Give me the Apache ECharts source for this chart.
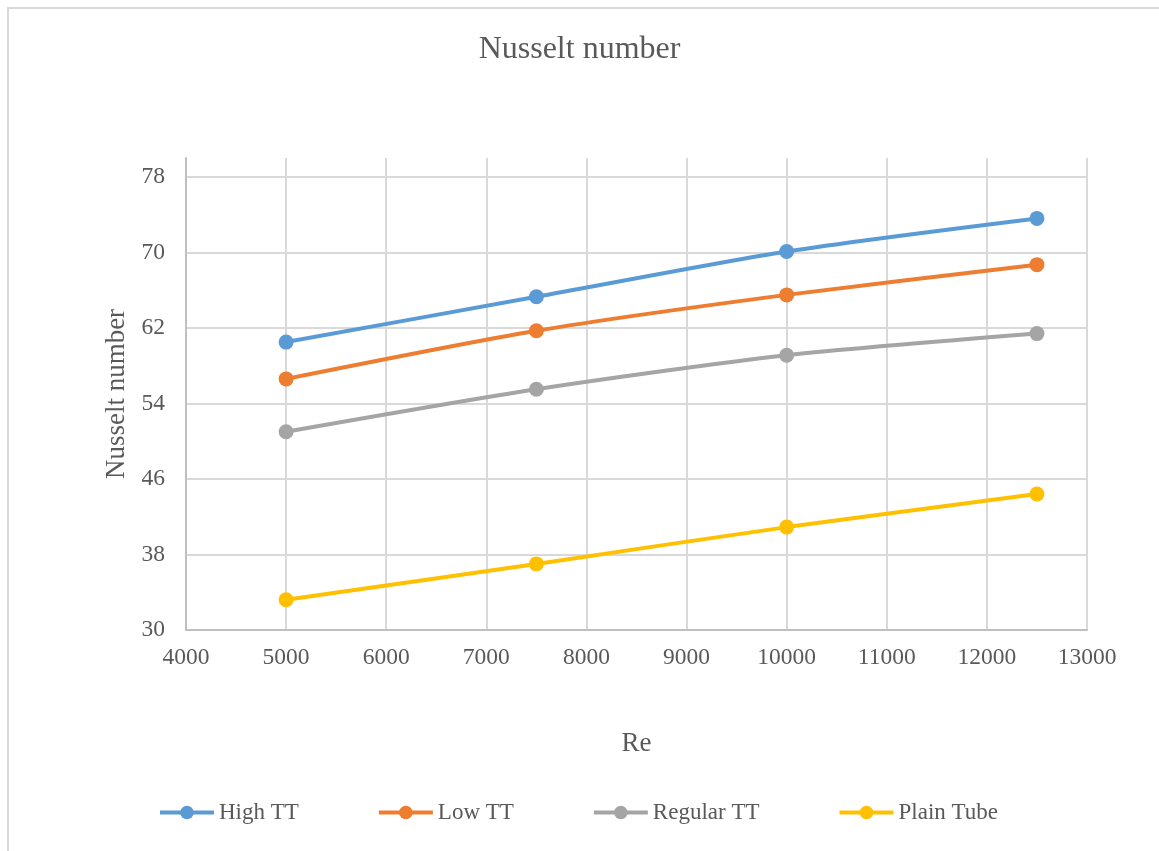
<!DOCTYPE html>
<html>
<head>
<meta charset="utf-8">
<title>Nusselt number</title>
<script src="https://cdn.jsdelivr.net/npm/echarts@6/dist/echarts.min.js"></script>
<style>
  html, body { margin: 0; padding: 0; background: #ffffff; }
  #chart { width: 1159px; height: 851px; }
</style>
</head>
<body>
<div id="chart"></div>
<script>
// Reynolds numbers (x values)
const reValues = [5000, 7500, 10000, 12500];

// Nusselt number per tube configuration
const highTT = [60.5, 65.3, 70.1, 73.6];
const lowTT = [56.6, 61.7, 65.5, 68.7];
const regularTT = [51.0, 55.5, 59.1, 61.4];
const plainTube = [33.2, 37.0, 40.9, 44.4];

const seriesNames = ['High TT', 'Low TT', 'Regular TT', 'Plain Tube'];
const seriesColors = ['#5B9BD5', '#ED7D31', '#A5A5A5', '#FFC000'];
const seriesValues = [highTT, lowTT, regularTT, plainTube];

const FONT = '"Liberation Serif", "Times New Roman", serif';
const TEXT = '#595959';

const chart = echarts.init(document.getElementById('chart'), null, { renderer: 'canvas' });

const series = seriesNames.map((name, i) => ({
  name: name,
  type: 'line',
  data: reValues.map((x, j) => [x, seriesValues[i][j]]),
  smooth: 0.25,
  symbol: 'circle',
  symbolSize: 15,
  lineStyle: { width: 4, color: seriesColors[i] },
  itemStyle: { color: seriesColors[i] },
  emphasis: { disabled: true }
}));

chart.setOption({
  animation: false,
  backgroundColor: '#ffffff',
  textStyle: { fontFamily: FONT, color: TEXT },
  graphic: [{
    type: 'rect',
    shape: { x: 8, y: 8, width: 1300, height: 1000 },
    style: { fill: 'none', stroke: '#d9d9d9', lineWidth: 2 },
    silent: true
  }],
  title: {
    text: 'Nusselt number',
    left: 'center',
    top: 29,
    textStyle: { fontFamily: FONT, fontSize: 32, fontWeight: 'normal', color: TEXT }
  },
  grid: { left: 186, right: 72, top: 158, bottom: 221 },
  legend: {
    left: 153,
    top: 796,
    itemWidth: 54,
    itemHeight: 17,
    itemGap: 78,
    lineStyle: { width: 4 },
    textStyle: { fontFamily: FONT, fontSize: 23, color: TEXT },
    data: seriesNames
  },
  xAxis: {
    type: 'value',
    min: 4000,
    max: 13000,
    interval: 1000,
    name: 'Re',
    nameLocation: 'middle',
    nameGap: 100,
    nameTextStyle: { fontFamily: FONT, fontSize: 27, color: TEXT },
    axisLine: { show: true, lineStyle: { color: '#bfbfbf', width: 2 } },
    axisTick: { show: false },
    axisLabel: {
      fontFamily: FONT, fontSize: 23.5, color: TEXT, margin: 16,
      formatter: v => String(v)
    },
    splitLine: { show: true, lineStyle: { color: '#d9d9d9', width: 2 } }
  },
  yAxis: {
    type: 'value',
    min: 30,
    max: 80,
    interval: 8,
    name: 'Nusselt number',
    nameLocation: 'middle',
    nameGap: 53,
    nameTextStyle: { fontFamily: FONT, fontSize: 27, color: TEXT },
    axisLine: { show: true, lineStyle: { color: '#bfbfbf', width: 2 } },
    axisTick: { show: false },
    axisLabel: { fontFamily: FONT, fontSize: 23.5, color: TEXT, margin: 21, showMaxLabel: false },
    splitLine: { show: true, showMaxLine: false, lineStyle: { color: '#d9d9d9', width: 2 } }
  },
  series: series
});
</script>
</body>
</html>
